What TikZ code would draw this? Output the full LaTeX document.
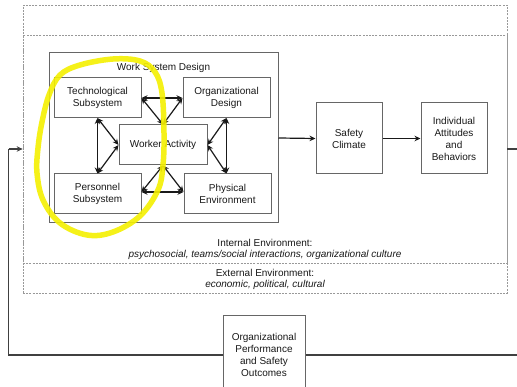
\documentclass[tikz,border=0pt]{standalone}
\usepackage{fontspec}
\setmainfont{Liberation Sans}
\usetikzlibrary{arrows.meta,calc}
\definecolor{hilite}{RGB}{245,240,0}
\begin{document}
\begin{tikzpicture}[x=1pt,y=-1pt,
  box/.style={draw=black!60, line width=1pt, fill=white, align=center, inner sep=0pt,
    font=\fontsize{10}{12}\selectfont, text=black!90},
  sbox/.style={box, minimum width=87pt, minimum height=40pt},
  env/.style={draw=black!40, line width=0.7pt, dash pattern=on 2pt off 1.2pt},
  dbl/.style={{Stealth[length=6pt,width=5.5pt]}-{Stealth[length=6pt,width=5.5pt]}, line width=1.2pt, draw=black!90},
  arr/.style={-{Stealth[length=6pt,width=5.5pt]}, line width=1.2pt, draw=black!90},
  fbline/.style={line width=1.3pt, draw=black!75},
  lbl/.style={font=\fontsize{10}{12}\selectfont, text=black!90, inner sep=0pt, align=center},
  hl/.style={draw=hilite, line width=5.5pt, opacity=0.9}
]
\clip (0,0) rectangle (517,387);
\fill[white] (0,0) rectangle (517,387);

% environments
\node[env, minimum width=484pt, minimum height=288pt, inner sep=0pt] (ext) at (265,149) {};
\node[env, minimum width=484pt, minimum height=228pt, inner sep=0pt] (int) at (265,149) {};

% work system
\node[box, minimum width=229pt, minimum height=170pt] (wsd) at (163.5,138) {};
\node[lbl] (wsdt) at (163.5,68) {Work System Design};
\node[sbox] (tech) at (97.5,97.5) {Technological\\Subsystem};
\node[sbox] (org)  at (226.5,97.5) {Organizational\\Design};
\node[box, minimum width=88pt, minimum height=40pt] (wa) at (163,145) {Worker Activity};
\node[sbox] (pers) at (97.5,194) {Personnel\\Subsystem};
\node[sbox] (phys) at (227.5,194) {Physical\\Environment};

\node[box, minimum width=66pt, minimum height=71pt] (sc) at (349,138.5) {Safety\\Climate};
\node[box, minimum width=66pt, minimum height=71pt] (iab) at (454,138.5) {Individual\\Attitudes\\and\\Behaviors};

\node[lbl] (inte) at (265,243) {Internal Environment:};
\node[lbl] (intt) at (265,255) {\itshape psychosocial, teams/social interactions, organizational culture};
\node[lbl] (exte) at (265,273) {External Environment:};
\node[lbl] (extt) at (265,285) {\itshape economic, political, cultural};

\node[box, minimum width=82pt, minimum height=78pt] (opso) at (264,355) {Organizational\\Performance\\and Safety\\Outcomes};

% arrows inside work system
\draw[dbl] ($(tech.east)+(0,0.5)$) -- ($(org.west)+(0,0.5)$);
\draw[dbl] ($(tech.east)+(0,0.5)$) -- (wa.north);
\draw[dbl] ($(org.west)+(0,0.5)$) -- (wa.north);
\draw[dbl] (tech.south) -- (pers.north);
\draw[dbl] (tech.south) -- (wa.west);
\draw[dbl] (pers.north) -- (wa.west);
\draw[dbl] (org.south) -- ($(phys.north)+(-1,0)$);
\draw[dbl] (org.south) -- (wa.east);
\draw[dbl] ($(phys.north)+(-1,0)$) -- (wa.east);
\draw[dbl] ($(pers.east)+(0,-2)$) -- ($(phys.west)+(0,-2)$);
\draw[dbl] ($(pers.east)+(0,-2)$) -- (wa.south);
\draw[dbl] ($(phys.west)+(0,-2)$) -- (wa.south);

\draw[arr] (wsd.east) -- (sc.west);
\draw[arr] (sc.east) -- (iab.west);

% feedback loop
\coordinate (rs) at (ext.east |- 0,149);
\coordinate (rc) at (520,149);
\coordinate (ls) at (8.5,149);
\draw[fbline] (rs) -- (rc) |- (opso.east);
\draw[fbline] (opso.west) -| (ls);
\draw[arr, line width=1.3pt, draw=black!75] (ls) -- (ext.west |- ls);

% highlight
\draw[hl] plot[smooth cycle, tension=0.6] coordinates {
 (49,95) (60,75) (80,65) (113,59) (140,61) (155,72) (162,93) (164,133)
 (163,165) (158,190) (140,216) (113,232) (87,235) (60,223) (43,200)
 (37,173) (38,148) (42,122)};
\end{tikzpicture}
\end{document}
